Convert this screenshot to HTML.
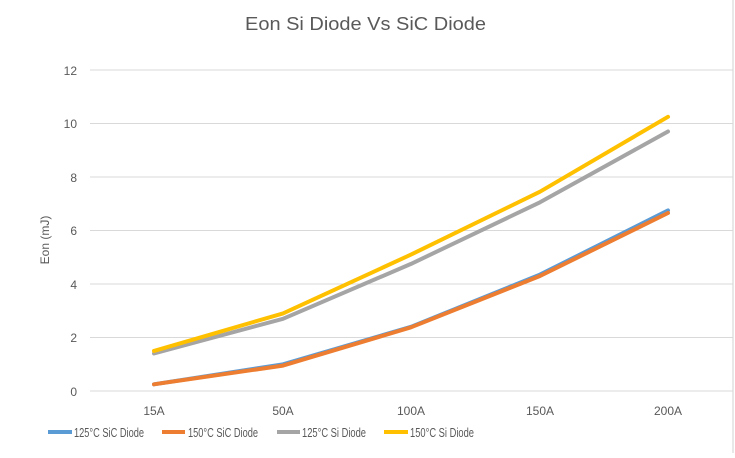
<!DOCTYPE html>
<html><head><style>body{margin:0;background:#fff}</style></head><body>
<svg width="735" height="453" xmlns="http://www.w3.org/2000/svg" font-family="Liberation Sans, sans-serif">
<rect width="735" height="453" fill="#fff"/>
<line x1="733" y1="0" x2="733" y2="453" stroke="#d0d0d0"/>
<text x="245" y="30" font-size="18" fill="#595959" textLength="241" lengthAdjust="spacingAndGlyphs">Eon Si Diode Vs SiC Diode</text>
<g stroke="#d9d9d9" stroke-width="1">
<line x1="90" y1="70" x2="733" y2="70"/><line x1="90" y1="123.5" x2="733" y2="123.5"/>
<line x1="90" y1="177" x2="733" y2="177"/><line x1="90" y1="230.5" x2="733" y2="230.5"/>
<line x1="90" y1="284" x2="733" y2="284"/><line x1="90" y1="337.5" x2="733" y2="337.5"/>
<line x1="90" y1="391" x2="733" y2="391"/></g>
<g font-size="12" fill="#595959" text-anchor="end">
<text x="77" y="75">12</text><text x="77" y="128">10</text><text x="77" y="182">8</text>
<text x="77" y="235">6</text><text x="77" y="289">4</text><text x="77" y="342">2</text><text x="77" y="396">0</text></g>
<g font-size="12" fill="#595959" text-anchor="middle">
<text x="154" y="415">15A</text><text x="283" y="415">50A</text><text x="411" y="415">100A</text>
<text x="540" y="415">150A</text><text x="668" y="415">200A</text></g>
<text transform="translate(49,240) rotate(-90)" font-size="12" fill="#595959" text-anchor="middle">Eon (mJ)</text>
<g fill="none" stroke-width="4" stroke-linejoin="round" stroke-linecap="round">
<polyline stroke="#5b9bd5" points="154,384.3 283,364.3 411,326.8 540,274.6 668,210.4"/>
<polyline stroke="#ed7d31" points="154,384.3 283,365.6 411,327.3 540,276 668,213"/>
<polyline stroke="#a5a5a5" points="154,353.5 283,318.8 411,263.9 540,202.3 668,131.5"/>
<polyline stroke="#ffc000" points="154,350.9 283,313.4 411,254.6 540,191.7 668,116.8"/>
</g>
<g stroke-width="4">
<line x1="48" y1="432" x2="72" y2="432" stroke="#5b9bd5"/>
<line x1="162" y1="432" x2="185" y2="432" stroke="#ed7d31"/>
<line x1="277" y1="432" x2="300" y2="432" stroke="#a5a5a5"/>
<line x1="384" y1="432" x2="408" y2="432" stroke="#ffc000"/></g>
<g font-size="13" fill="#595959">
<text x="74" y="437" textLength="70" lengthAdjust="spacingAndGlyphs">125°C SiC Diode</text>
<text x="188" y="437" textLength="70" lengthAdjust="spacingAndGlyphs">150°C SiC Diode</text>
<text x="302" y="437" textLength="64" lengthAdjust="spacingAndGlyphs">125°C Si Diode</text>
<text x="410" y="437" textLength="64" lengthAdjust="spacingAndGlyphs">150°C Si Diode</text></g>
</svg>
</body></html>
